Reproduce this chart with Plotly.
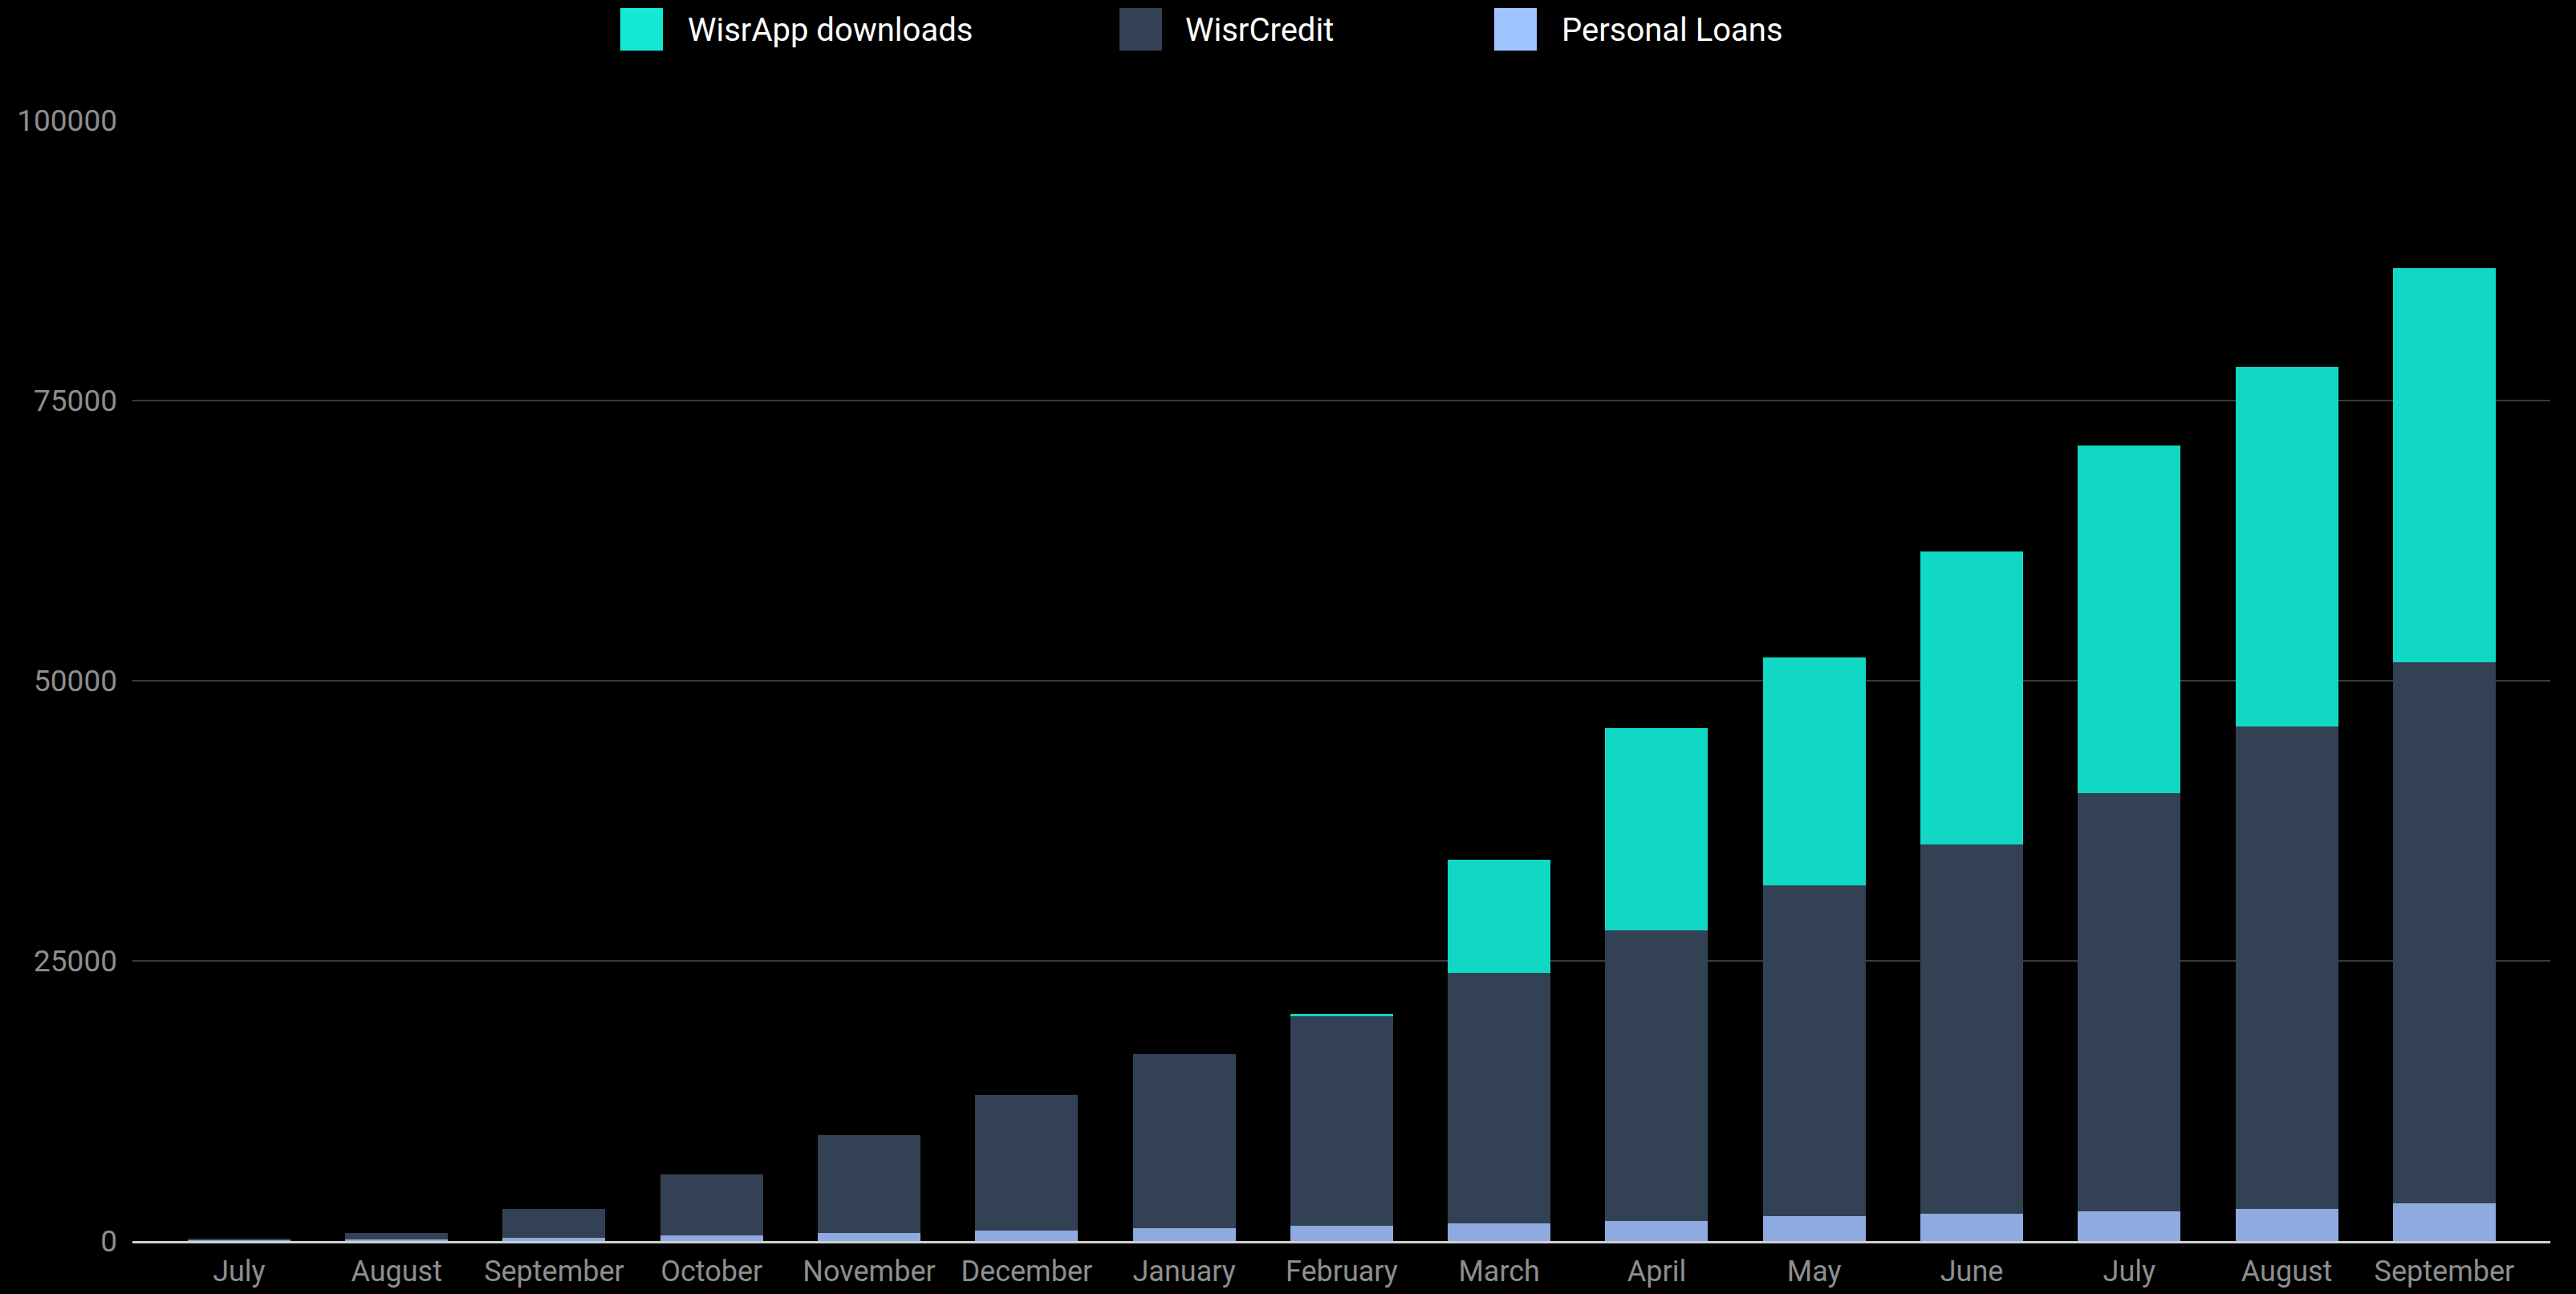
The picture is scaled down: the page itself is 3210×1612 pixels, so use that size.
import plotly.graph_objects as go

# ---- data ----
months = ["July", "August", "September", "October", "November", "December",
          "January", "February", "March", "April", "May", "June",
          "July", "August", "September"]
personal_loans = [100, 150, 290, 500, 720, 930, 1150, 1360, 1580, 1790, 2220, 2440, 2650, 2870, 3370]
wisr_credit = [50, 570, 2580, 5450, 8740, 12120, 15550, 18690, 22320, 25910, 29480, 32960, 37350, 43030, 48280]
wisrapp_downloads = [0, 0, 0, 0, 0, 0, 0, 200, 10100, 18100, 20400, 26100, 31000, 32100, 35200]
y_ticks = [0, 25000, 50000, 75000, 100000]

legend_names = ["WisrApp downloads", "WisrCredit", "Personal Loans"]
bar_colors = {"Personal Loans": "#8EAADE", "WisrCredit": "#334155", "WisrApp downloads": "#10D8C4"}
legend_colors = {"WisrApp downloads": "#14E9D3", "WisrCredit": "#334155", "Personal Loans": "#A0C4FF"}

W, H = 3210, 1612
ML, MR, MT, MB = 165, 32, 150, 66
PW, PH = W - ML - MR, H - MT - MB

x = list(range(len(months)))

fig = go.Figure()
for name, vals in [("Personal Loans", personal_loans),
                   ("WisrCredit", wisr_credit),
                   ("WisrApp downloads", wisrapp_downloads)]:
    fig.add_trace(go.Bar(x=x, y=vals, name=name, showlegend=False,
                         marker=dict(color=bar_colors[name], line=dict(width=0))))

def px_x(p):
    return (p - ML) / PW

def px_y(p):
    return (H - MB - p) / PH

# custom legend (large square swatches like the reference)
legend_pos = [(773, 855), (1395, 1475), (1862, 1944)]
shapes = []
annotations = []
for name, (sx, tx) in zip(legend_names, legend_pos):
    shapes.append(dict(type="rect", xref="paper", yref="paper",
                       x0=px_x(sx), x1=px_x(sx + 53), y0=px_y(63), y1=px_y(10),
                       fillcolor=legend_colors[name], line=dict(width=0), layer="above"))
    annotations.append(dict(text=name, xref="paper", yref="paper",
                            x=px_x(tx), y=px_y(37), xanchor="left", yanchor="middle",
                            showarrow=False,
                            font=dict(family="Roboto", size=40, color="#ffffff")))

fig.update_layout(
    width=W, height=H,
    margin=dict(l=ML, r=MR, t=MT, b=MB, pad=0, autoexpand=False),
    paper_bgcolor="#000000", plot_bgcolor="#000000",
    barmode="stack", bargap=0.348,
    showlegend=False,
    shapes=shapes, annotations=annotations,
    font=dict(family="Roboto", size=36, color="#8e8e8e"),
    xaxis=dict(tickmode="array", tickvals=x, ticktext=months,
               range=[-0.677, len(months) - 1 + 0.673],
               showgrid=False, zeroline=False, automargin=False,
               showline=True, linecolor="#d0d0d0", linewidth=3,
               ticks="", ticklabelstandoff=4, layer="below traces",
               tickfont=dict(family="Roboto", size=36, color="#8e8e8e")),
    yaxis=dict(range=[0, 100000], tickvals=y_ticks, tickformat="d",
               automargin=False,
               showgrid=True, gridcolor="#3a3a3a", gridwidth=2,
               zeroline=False, showline=False, ticks="",
               ticklabelstandoff=18,
               tickfont=dict(family="Roboto", size=37, color="#8e8e8e")),
)

fig.write_html(
    "out.html",
    config={"displayModeBar": False},
    post_script="document.body.style.margin='0';document.body.style.overflow='hidden';"
                "document.documentElement.style.background='#000';",
)
